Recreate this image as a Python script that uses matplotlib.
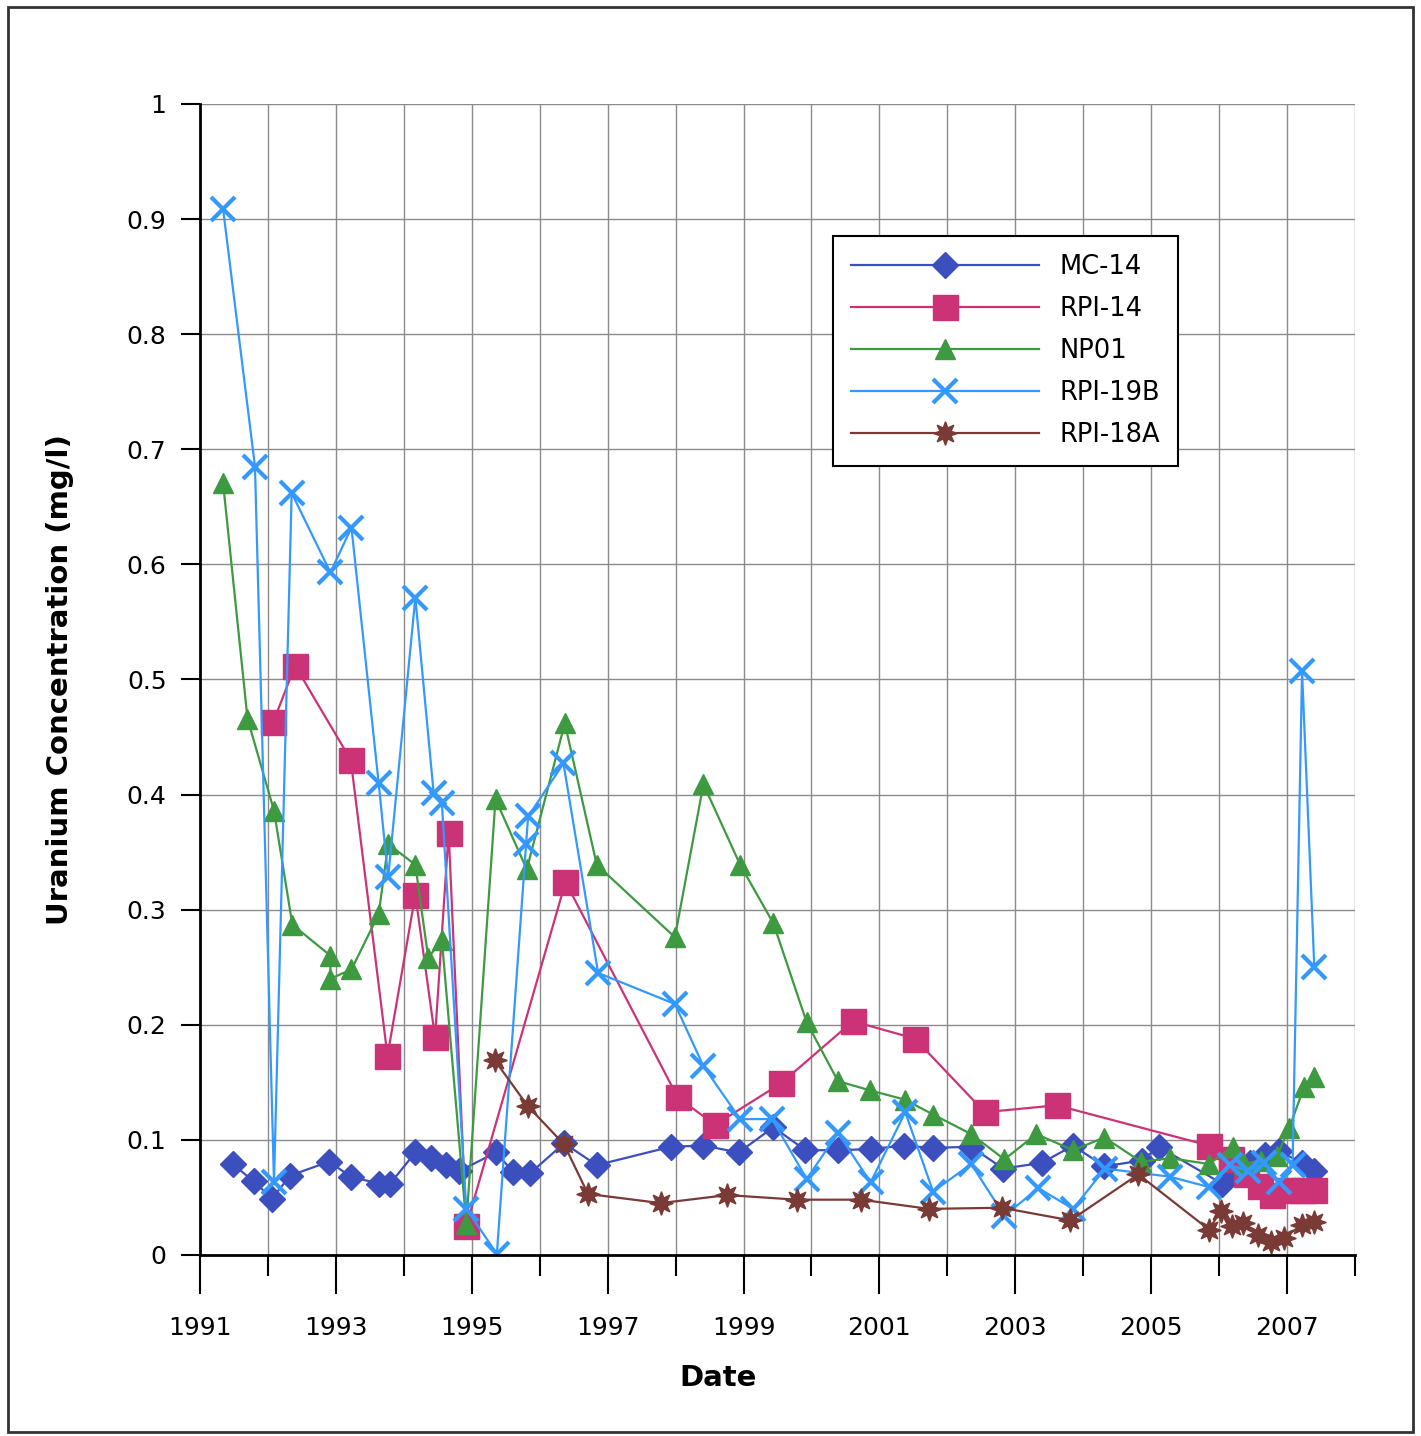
import matplotlib
matplotlib.use('Agg')
import matplotlib.pyplot as plt
from matplotlib.patches import Rectangle
from matplotlib.ticker import FixedLocator, FuncFormatter

# sample dates as decimal years, uranium in mg/l
mc14_year = [1991.48, 1991.79, 1992.06, 1992.33, 1992.90, 1993.22, 1993.63, 1993.80,
             1994.17, 1994.40, 1994.62, 1994.82, 1995.36, 1995.61, 1995.86, 1996.36,
             1996.84, 1997.93, 1998.41, 1998.93, 1999.44, 1999.91, 2000.39, 2000.88,
             2001.36, 2001.79, 2002.35, 2002.82, 2003.39, 2003.85, 2004.31, 2004.86,
             2005.11, 2006.04, 2006.20, 2006.45, 2006.68, 2006.88, 2007.22, 2007.39]
mc14_u = [0.079, 0.064, 0.049, 0.069, 0.081, 0.068, 0.062, 0.062,
          0.089, 0.084, 0.078, 0.073, 0.089, 0.072, 0.071, 0.097,
          0.078, 0.094, 0.095, 0.089, 0.111, 0.091, 0.091, 0.092,
          0.095, 0.093, 0.094, 0.075, 0.080, 0.095, 0.077, 0.082,
          0.094, 0.062, 0.072, 0.080, 0.087, 0.090, 0.080, 0.073]

rpi14_year = [1992.08, 1992.40, 1993.22, 1993.76, 1994.17, 1994.46, 1994.66, 1994.92,
              1996.38, 1998.03, 1998.58, 1999.55, 2000.61, 2001.52, 2002.55, 2003.61,
              2005.85, 2006.18, 2006.40, 2006.60, 2006.78, 2007.02, 2007.22, 2007.40]
rpi14_u = [0.463, 0.512, 0.430, 0.173, 0.313, 0.189, 0.367, 0.025,
           0.324, 0.137, 0.113, 0.149, 0.203, 0.188, 0.124, 0.130,
           0.095, 0.083, 0.070, 0.060, 0.052, 0.056, 0.056, 0.056]

np01_year = [1991.34, 1991.70, 1992.09, 1992.36, 1992.92, 1992.92, 1993.23, 1993.63,
             1993.77, 1994.17, 1994.36, 1994.56, 1994.92, 1995.35, 1995.81, 1996.37,
             1996.84, 1997.99, 1998.41, 1998.95, 1999.44, 1999.93, 2000.39, 2000.86,
             2001.37, 2001.79, 2002.35, 2002.84, 2003.31, 2003.85, 2004.31, 2004.85,
             2005.28, 2005.85, 2006.20, 2006.36, 2006.61, 2006.85, 2007.03, 2007.25,
             2007.40]
np01_u = [0.671, 0.466, 0.386, 0.287, 0.260, 0.240, 0.248, 0.296,
          0.357, 0.339, 0.258, 0.274, 0.027, 0.396, 0.335, 0.462,
          0.339, 0.276, 0.409, 0.339, 0.288, 0.202, 0.151, 0.143,
          0.135, 0.122, 0.105, 0.083, 0.105, 0.091, 0.102, 0.081,
          0.084, 0.079, 0.094, 0.079, 0.082, 0.086, 0.110, 0.146,
          0.155]

rpi19b_year = [1991.34, 1991.81, 1992.09, 1992.35, 1992.92, 1993.23, 1993.63, 1993.77,
               1994.17, 1994.44, 1994.56, 1994.92, 1995.37, 1995.80, 1995.83, 1996.35,
               1996.86, 1997.99, 1998.41, 1998.95, 1999.42, 1999.93, 2000.39, 2000.87,
               2001.38, 2001.79, 2002.35, 2002.84, 2003.34, 2003.85, 2004.32, 2005.27,
               2005.85, 2006.16, 2006.43, 2006.66, 2006.88, 2007.08, 2007.22, 2007.40]
rpi19b_u = [0.909, 0.685, 0.063, 0.662, 0.593, 0.632, 0.410, 0.328,
            0.571, 0.401, 0.393, 0.040, 0.001, 0.357, 0.381, 0.427,
            0.245, 0.218, 0.164, 0.118, 0.118, 0.066, 0.106, 0.063,
            0.124, 0.055, 0.079, 0.034, 0.058, 0.040, 0.075, 0.068,
            0.059, 0.078, 0.073, 0.080, 0.063, 0.078, 0.507, 0.250]

rpi18a_year = [1995.34, 1995.83, 1996.36, 1996.71, 1997.78, 1998.76, 1999.78, 2000.73,
               2001.73, 2002.80, 2003.81, 2004.81, 2005.85, 2006.02, 2006.19, 2006.35,
               2006.57, 2006.77, 2006.95, 2007.22, 2007.40]
rpi18a_u = [0.169, 0.129, 0.096, 0.053, 0.045, 0.052, 0.048, 0.048,
            0.040, 0.041, 0.030, 0.070, 0.022, 0.038, 0.025, 0.028,
            0.017, 0.011, 0.015, 0.026, 0.029]

year_labels = [1991, 1993, 1995, 1997, 1999, 2001, 2003, 2005, 2007]
y_ticks = [i / 10 for i in range(11)]

fig = plt.figure(figsize=(14.21, 14.36), dpi=100)
ax = fig.add_axes([0.1407, 0.1261, 0.8129, 0.8015])

ax.plot(mc14_year, mc14_u, color='#3b4fbf', lw=1.6, marker='D', ms=13,
        mec='#3b4fbf', label='MC-14')
ax.plot(rpi14_year, rpi14_u, color='#cc3377', lw=1.6, marker='s', ms=18,
        mec='#cc3377', label='RPI-14')
ax.plot(np01_year, np01_u, color='#3d9a40', lw=1.6, marker='^', ms=15,
        mec='#3d9a40', label='NP01')
ax.plot(rpi19b_year, rpi19b_u, color='#3399ff', lw=1.6, marker='x', ms=17,
        mew=3, label='RPI-19B')
ax.plot(rpi18a_year, rpi18a_u, color='#7a3b36', lw=1.6, marker=(8, 1, 0), ms=17,
        mec='#7a3b36', label='RPI-18A')

ax.set_xlim(1991, 2008)
ax.set_ylim(0, 1)

ax.xaxis.set_major_locator(FixedLocator(year_labels))
ax.xaxis.set_minor_locator(FixedLocator(range(1992, 2009, 2)))
ax.yaxis.set_major_locator(FixedLocator(y_ticks))
ax.yaxis.set_major_formatter(FuncFormatter(lambda v, p: f'{v:g}'))

ax.tick_params(axis='x', which='major', direction='out', length=28, width=1.5,
               pad=16, labelsize=18)
ax.tick_params(axis='x', which='minor', direction='out', length=15, width=1.5)
ax.tick_params(axis='y', direction='out', length=14, width=1.5, pad=10, labelsize=18)

ax.grid(True, which='both', axis='x', color='#8a8a8a', lw=1)
ax.grid(True, which='major', axis='y', color='#8a8a8a', lw=1)
ax.set_axisbelow(True)

for side in ['top', 'right']:
    ax.spines[side].set_visible(False)
for side in ['left', 'bottom']:
    ax.spines[side].set_linewidth(2)

ax.set_ylabel('Uranium Concentration (mg/l)', fontsize=21, fontweight='bold',
              va='center')
ax.yaxis.set_label_coords(-0.121, 0.5)
ax.set_xlabel('Date', fontsize=21, fontweight='bold', va='center')
ax.xaxis.set_label_coords(0.4485, -0.107)

leg = ax.legend(loc='upper left', bbox_to_anchor=(0.548, 0.885), fontsize=18.5,
                handlelength=7.3, labelspacing=0.62, borderpad=0.7,
                handletextpad=0.8, borderaxespad=0,
                fancybox=False, framealpha=1)
leg.get_frame().set_edgecolor('black')
leg.get_frame().set_linewidth(1.5)

# frame around the whole figure
fig.patches.append(Rectangle((8 / 1421, 1 - 1432 / 1436), 1405 / 1421, 1425 / 1436,
                             transform=fig.transFigure, fill=False,
                             edgecolor='#333333', lw=2))

fig.savefig('out.png', dpi=100)
